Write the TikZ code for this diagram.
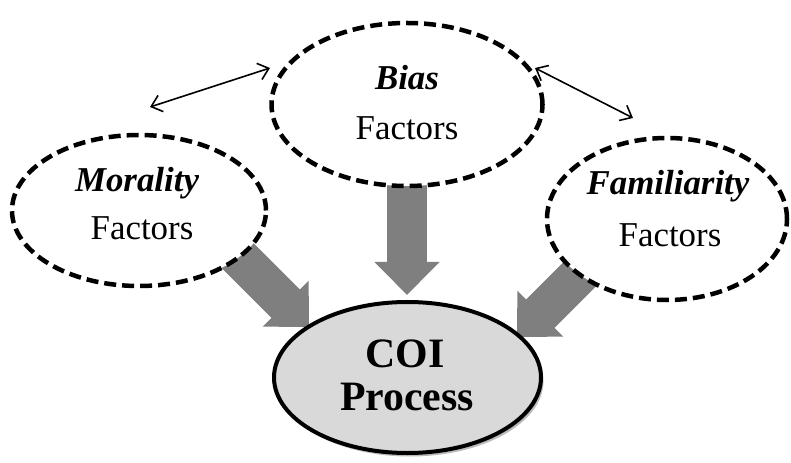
\documentclass[tikz,border=0pt]{standalone}
\usepackage{fontspec}
\setmainfont{Liberation Serif}
\usetikzlibrary{shapes.geometric,arrows.meta,shadows}
\definecolor{arrowgray}{HTML}{7F7F7F}
\definecolor{coifill}{HTML}{D9D9D9}
\tikzset{
  factor/.style={ellipse, draw=black, fill=white, line width=4.5bp,
    dash pattern=on 12bp off 6bp, inner sep=0pt},
  coibox/.style={ellipse, draw=black, fill=coifill, line width=4bp, inner sep=0pt,
    drop shadow={shadow xshift=2.5bp, shadow yshift=-3.5bp, opacity=0.45, fill=black!60}},
  bigarrow/.style={draw=arrowgray, line width=40bp, -{Triangle[length=33bp,width=63bp]}},
  linkarrow/.style={line width=1.6bp, {Straight Barb[length=10bp,width=17bp]}-{Straight Barb[length=10bp,width=17bp]}},
  titletxt/.style={anchor=base, inner sep=0pt, font=\fontsize{35}{40}\selectfont\bfseries\itshape},
  factxt/.style={anchor=base, inner sep=0pt, font=\fontsize{35}{40}\selectfont},
  coitxt/.style={anchor=base, inner sep=0pt, font=\fontsize{42}{46}\selectfont\bfseries},
}
\begin{document}
\begin{tikzpicture}[x=1bp,y=-1bp]
\useasboundingbox (0,0) rectangle (791,463);
% arrow coordinates
\coordinate (ltail) at (209,227);
\coordinate (ltip) at (309,327);
\coordinate (mtail) at (407,150);
\coordinate (mtip) at (407,295);
\coordinate (rtail) at (617,237);
\coordinate (rtip) at (517,337);
\draw[bigarrow] (ltail) -- (ltip);
\draw[bigarrow] (mtail) -- (mtip);
\draw[bigarrow] (rtail) -- (rtip);
% ellipses
\node[factor, minimum width=271bp, minimum height=163bp] (bias) at (407,104.5) {};
\node[factor, minimum width=254bp, minimum height=151bp] (morality) at (139,210.5) {};
\node[factor, minimum width=240bp, minimum height=162bp] (familiarity) at (667,219) {};
\node[coibox, minimum width=267bp, minimum height=151bp] (coi) at (407.5,377.5) {};
% texts
\node[titletxt] (biast) at (407,90) {Bias};
\node[factxt] (biasf) at (407,140) {Factors};
\node[titletxt] (moralt) at (137,192) {Morality};
\node[factxt] (moralf) at (142,240) {Factors};
\node[titletxt] (famt) at (668,195) {Familiarity};
\node[factxt] (famf) at (670,247) {Factors};
\node[coitxt] (coit) at (405,368) {COI};
\node[coitxt] (coip) at (407,410) {Process};
% link arrows
\coordinate (a1) at (150,107);
\coordinate (a2) at (270,68);
\coordinate (b1) at (535,68);
\coordinate (b2) at (633,118);
\draw[linkarrow] (a1) -- (a2);
\draw[linkarrow] (b1) -- (b2);
\end{tikzpicture}
\end{document}
